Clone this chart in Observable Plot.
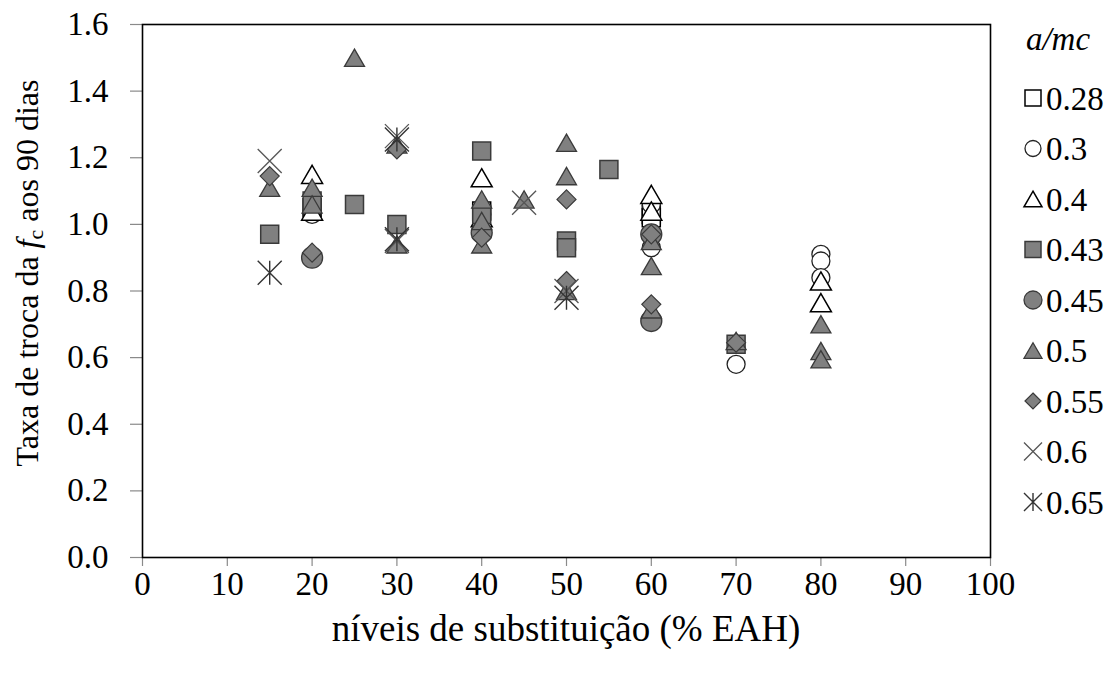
<!DOCTYPE html>
<html><head><meta charset="utf-8">
<script src="https://cdn.jsdelivr.net/npm/d3@7"></script>
<script src="https://cdn.jsdelivr.net/npm/@observablehq/plot@0.6"></script>
<style>html,body{margin:0;padding:0;background:#fff;} #chart{width:1118px;height:673px;overflow:hidden;}</style>
</head><body><div id="chart"></div>
<script>
// ---- data ----
const xTicks = [0, 10, 20, 30, 40, 50, 60, 70, 80, 90, 100];
const yTicks = [0, 0.2, 0.4, 0.6, 0.8, 1.0, 1.2, 1.4, 1.6];
const seriesLabels = ["0.28", "0.3", "0.4", "0.43", "0.45", "0.5", "0.55", "0.6", "0.65"];

const x028 = [20, 40, 60, 60];
const y028 = [1.05, 1.04, 1.03, 1.02];
const x030 = [20, 20, 40, 60, 60, 60, 70, 80, 80, 80];
const y030 = [1.03, 1.04, 1.03, 1.06, 0.97, 0.93, 0.58, 0.91, 0.89, 0.84];
const x040 = [20, 20, 40, 40, 60, 60, 80, 80];
const y040 = [1.15, 1.04, 1.14, 1.02, 1.09, 1.04, 0.83, 0.765];
const x043 = [15, 20, 25, 30, 40, 40, 50, 50, 55, 70];
const y043 = [0.97, 1.07, 1.06, 1.00, 1.22, 1.03, 0.95, 0.93, 1.165, 0.64];
const x045 = [20, 40, 60, 60];
const y045 = [0.90, 0.975, 0.97, 0.71];
const x050 = [15, 20, 20, 25, 30, 30, 40, 40, 40, 45, 50, 50, 50, 60, 60, 60, 70, 80, 80, 80];
const y050 = [1.11, 1.11, 1.06, 1.50, 1.24, 0.94, 1.075, 1.01, 0.94, 1.075, 1.245, 1.145, 0.80, 0.95, 0.875, 0.745, 0.65, 0.70, 0.62, 0.595];
const x055 = [15, 20, 30, 40, 50, 50, 60, 60, 70];
const y055 = [1.145, 0.915, 1.225, 0.96, 1.075, 0.83, 0.97, 0.76, 0.645];
const x060 = [15, 30, 30, 45, 50];
const y060 = [1.19, 1.265, 0.95, 1.065, 0.80];
const x065 = [15, 30, 30, 50];
const y065 = [0.855, 1.255, 0.955, 0.78];

// ---- symbols ----
const rad = s => Math.sqrt(s / Math.PI);
const symSquare = {draw(c, s) { const r = rad(s); c.moveTo(-r, -r); c.lineTo(r, -r); c.lineTo(r, r); c.lineTo(-r, r); c.closePath(); }};
const symCircle = {draw(c, s) { const r = rad(s); c.moveTo(r, 0); c.arc(0, 0, r, 0, 2 * Math.PI); c.closePath(); }};
const symTriangle = {draw(c, s) { const r = rad(s), h = r * Math.sqrt(3); c.moveTo(0, -h / 2); c.lineTo(r, h / 2); c.lineTo(-r, h / 2); c.closePath(); }};
const symDiamond = {draw(c, s) { const r = rad(s); c.moveTo(0, -r); c.lineTo(r, 0); c.lineTo(0, r); c.lineTo(-r, 0); c.closePath(); }};
const symTimes = {draw(c, s) { const r = rad(s); c.moveTo(-r, -r); c.lineTo(r, r); c.moveTo(-r, r); c.lineTo(r, -r); }};
const symAst = {draw(c, s) { const r = rad(s); c.moveTo(-r, -r); c.lineTo(r, r); c.moveTo(-r, r); c.lineTo(r, -r); c.moveTo(0, -r); c.lineTo(0, r); }};

const GRAY = "#808080", DARK = "#3a3a3a";
const series = [
  {label: seriesLabels[0], x: x028, y: y028, symbol: symSquare, r: 9, lr: 8, fill: "white", stroke: "black", sw: 1.5},
  {label: seriesLabels[1], x: x030, y: y030, symbol: symCircle, r: 9, lr: 8, fill: "white", stroke: "#222", sw: 1.3},
  {label: seriesLabels[2], x: x040, y: y040, symbol: symTriangle, r: 10.5, lr: 9, fill: "white", stroke: "black", sw: 1.5},
  {label: seriesLabels[3], x: x043, y: y043, symbol: symSquare, r: 9, lr: 8, fill: GRAY, stroke: DARK, sw: 1.5},
  {label: seriesLabels[4], x: x045, y: y045, symbol: symCircle, r: 10.5, lr: 9, fill: GRAY, stroke: DARK, sw: 1.3},
  {label: seriesLabels[5], x: x050, y: y050, symbol: symTriangle, r: 10, lr: 9, fill: GRAY, stroke: DARK, sw: 1.3},
  {label: seriesLabels[6], x: x055, y: y055, symbol: symDiamond, r: 9.5, lr: 8, fill: GRAY, stroke: DARK, sw: 1.2},
  {label: seriesLabels[7], x: x060, y: y060, symbol: symTimes, r: 12, lr: 9, fill: "none", stroke: "#555", sw: 1.3},
  {label: seriesLabels[8], x: x065, y: y065, symbol: symAst, r: 12, lr: 9, fill: "none", stroke: "#333", sw: 1.4}
];

const FONT = "Liberation Serif, Times New Roman, serif";
const FS = 33;

const chart = Plot.plot({
  width: 1118,
  height: 673,
  marginLeft: 142,
  marginRight: 128,
  marginTop: 24,
  marginBottom: 116,
  style: {fontFamily: FONT, fontSize: FS + "px", color: "black", background: "white", overflow: "visible"},
  x: {domain: [0, 100]},
  y: {domain: [0, 1.6]},
  marks: [
    Plot.axisX({ticks: xTicks, tickSize: 9, tickPadding: 5, stroke: "#8a8a8a", strokeWidth: 1.2, fill: "black", label: null, tickFormat: d => String(d)}),
    Plot.axisY({ticks: yTicks, tickSize: 12, tickPadding: 22, stroke: "#8a8a8a", strokeWidth: 1.2, fill: "black", label: null, tickFormat: d3.format(".1f")}),
    Plot.frame({stroke: "black", strokeWidth: 1.6}),
    ...series.map(s => Plot.dot(s.x.map((xv, i) => ({x: xv, y: s.y[i]})), {
      x: "x", y: "y", symbol: s.symbol, r: s.r, fill: s.fill, stroke: s.stroke, strokeWidth: s.sw
    }))
  ]
});
document.getElementById("chart").appendChild(chart);

// ---- axis titles ----
const svg = d3.select(chart);
const yt = svg.append("text")
  .attr("transform", "translate(38,273) rotate(-90)")
  .attr("text-anchor", "middle")
  .attr("font-family", FONT).attr("font-size", 32).attr("fill", "black");
yt.append("tspan").text("Taxa de troca da ");
yt.append("tspan").attr("font-style", "italic").text("f");
yt.append("tspan").attr("font-size", 22).attr("dy", 5).text("c");
yt.append("tspan").attr("dy", -5).text(" aos 90 dias");

svg.append("text")
  .attr("x", 566).attr("y", 641)
  .attr("text-anchor", "middle")
  .attr("font-family", FONT).attr("font-size", 37).attr("fill", "black")
  .text("níveis de substituição (% EAH)");

// ---- legend ----
const lg = svg.append("g").attr("text-anchor", "start");
lg.append("text").attr("x", 1058).attr("y", 50).attr("text-anchor", "middle")
  .attr("font-family", FONT).attr("font-size", FS).attr("font-style", "italic").attr("fill", "black")
  .text("a/mc");
series.forEach((s, i) => {
  const cy = 98 + i * 50.5;
  const p = d3.path();
  s.symbol.draw(p, Math.PI * s.lr * s.lr);
  lg.append("path").attr("d", p.toString()).attr("transform", `translate(1033,${cy})`)
    .attr("fill", s.fill).attr("stroke", s.stroke).attr("stroke-width", s.sw);
  lg.append("text").attr("x", 1046).attr("y", cy).attr("dy", "0.35em").attr("text-anchor", "start")
    .attr("font-family", FONT).attr("font-size", FS).attr("fill", "black")
    .text(s.label);
});
</script>
</body></html>
